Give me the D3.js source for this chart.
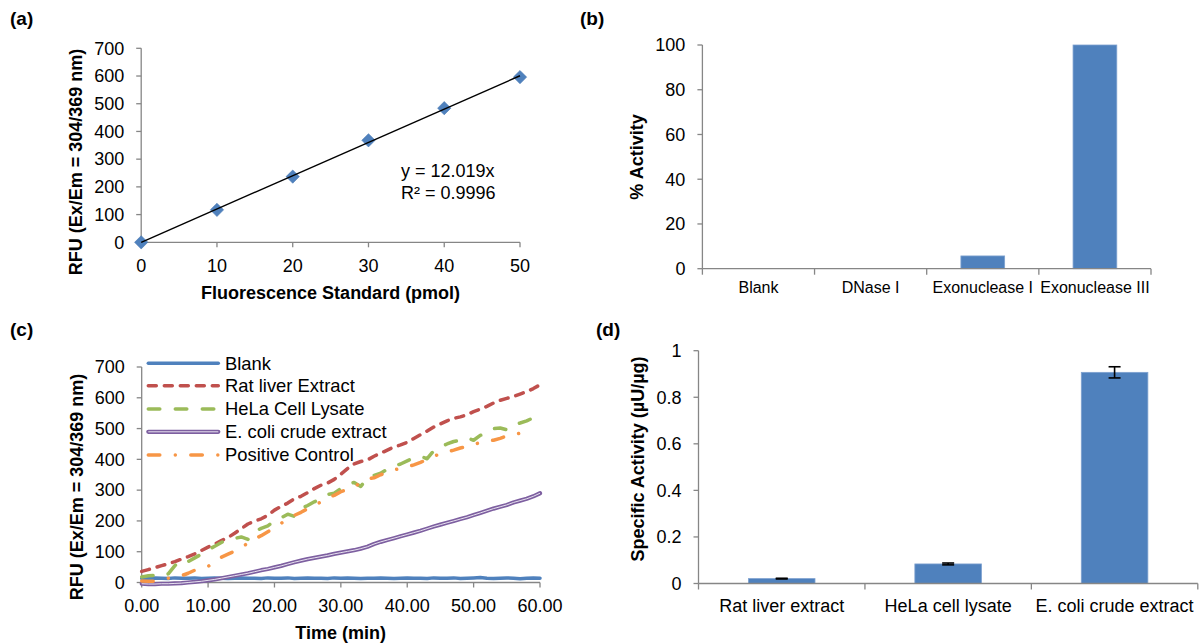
<!DOCTYPE html>
<html><head><meta charset="utf-8">
<script src="https://cdn.jsdelivr.net/npm/d3@7"></script>
<style>
html,body{margin:0;padding:0;background:#fff;}
svg{display:block;font-family:"Liberation Sans",Arial,sans-serif;}
</style></head>
<body>
<svg id="chart" width="1199" height="644"></svg>
<script>
// ---------- DATA ----------
// (a) standard curve
const stdX = [0, 10, 20, 30, 40, 50];
const stdY = [0, 117, 237, 368, 484, 596];
const stdSlope = 12.019;
const stdEq = ["y = 12.019x", "R² = 0.9996"];
const aXTicks = [0, 10, 20, 30, 40, 50];
const aYTicks = [0, 100, 200, 300, 400, 500, 600, 700];

// (b) % activity
const bCats = ["Blank", "DNase I", "Exonuclease I", "Exonuclease III"];
const bVals = [0, 0, 5.7, 100];
const bYTicks = [0, 20, 40, 60, 80, 100];

// (c) kinetics (time in min, one reading per minute)
const cTime = d3.range(0, 61);
const cBlank = [13,14,15,14,13,15,14,14,15,13,14,15,14,13,14,15,14,14,13,15,14,14,15,13,14,15,14,14,13,15,14,15,14,13,14,14,15,14,13,14,15,14,14,13,15,14,14,15,13,14,15,16,14,13,14,15,14,12,14,15,14];
const cRat = [36,42,48,55,61,68,76,84,93,104,115,125,136,146,160,175,190,199,207,218,235,247,258,272,280,292,305,316,323,335,352,370,385,393,398,410,420,430,440,447,455,468,480,492,505,515,525,533,538,545,555,563,572,583,592,598,604,612,620,630,642];
const cHela = [18,22,23,20,28,55,73,68,80,92,106,118,130,138,143,148,140,165,176,184,200,210,222,215,240,250,262,272,286,290,305,318,325,312,340,348,355,368,378,385,395,405,410,402,428,440,450,458,462,470,462,478,485,500,502,496,512,518,525,535,548];
const cEcoli = [-4,-5,-5,-4,-4,-3,-2,0,2,4,7,10,14,18,22,26,30,35,40,44,49,54,60,66,71,76,80,84,88,93,97,101,105,110,116,125,132,138,144,150,156,162,168,175,182,188,194,200,206,212,219,226,233,240,246,252,260,266,272,280,290];
const cPos = [5,4,4,10,14,18,22,30,40,46,52,68,82,92,102,114,128,142,152,165,178,192,208,218,228,240,250,262,276,283,295,302,310,325,336,340,350,358,365,372,376,382,390,400,410,418,424,430,437,442,448,455,460,462,468,476,480,485,484,488];
const cNames = ["Blank", "Rat liver Extract", "HeLa Cell Lysate", "E. coli crude extract", "Positive Control"];
const cXTicks = [0, 10, 20, 30, 40, 50, 60];
const cYTicks = [0, 100, 200, 300, 400, 500, 600, 700];

// (d) specific activity
const dCats = ["Rat liver extract", "HeLa cell lysate", "E. coli crude extract"];
const dVals = [0.021, 0.084, 0.907];
const dErr = [0.0015, 0.004, 0.024];
const dYTicks = [0, 0.2, 0.4, 0.6, 0.8, 1];

// ---------- STYLE ----------
const AX = "#868686", BAR = "#4F81BD", FS = 18;
const svg = d3.select("#chart");

function yAxisLeft(g, y, x0, ticks, fmt) {
  g.append("line").attr("x1", x0).attr("x2", x0).attr("y1", y(ticks[0])).attr("y2", y(ticks[ticks.length-1]))
    .attr("stroke", AX).attr("stroke-width", 1.3);
  ticks.forEach(t => {
    g.append("line").attr("x1", x0-5).attr("x2", x0).attr("y1", y(t)).attr("y2", y(t)).attr("stroke", AX).attr("stroke-width", 1.3);
    g.append("text").attr("x", x0-17).attr("y", y(t)).attr("dy", "0.35em").attr("text-anchor", "end")
      .attr("font-size", FS).attr("fill", "#000").text(fmt(t));
  });
}
function xAxisLinear(g, x, y0, ticks, fmt, labBase) {
  g.append("line").attr("x1", x(ticks[0])).attr("x2", x(ticks[ticks.length-1])).attr("y1", y0).attr("y2", y0)
    .attr("stroke", AX).attr("stroke-width", 1.3);
  ticks.forEach(t => {
    g.append("line").attr("x1", x(t)).attr("x2", x(t)).attr("y1", y0).attr("y2", y0+5).attr("stroke", AX).attr("stroke-width", 1.3);
    g.append("text").attr("x", x(t)).attr("y", labBase).attr("text-anchor", "middle")
      .attr("font-size", FS).attr("fill", "#000").text(fmt(t));
  });
}
function xAxisBand(g, x, y0, labBase, fs) {
  const r = x.range();
  g.append("line").attr("x1", r[0]).attr("x2", r[1]).attr("y1", y0).attr("y2", y0).attr("stroke", AX).attr("stroke-width", 1.3);
  const n = x.domain().length;
  d3.range(n+1).forEach(i => {
    const xx = r[0] + i * x.step();
    g.append("line").attr("x1", xx).attr("x2", xx).attr("y1", y0).attr("y2", y0+6).attr("stroke", AX).attr("stroke-width", 1.3);
  });
  x.domain().forEach(c => {
    g.append("text").attr("x", x(c) + x.bandwidth()/2).attr("y", labBase).attr("text-anchor", "middle")
      .attr("font-size", fs).attr("fill", "#000").text(c);
  });
}
function yTitle(g, txt, bx, cy) {
  g.append("text").attr("transform", `translate(${bx},${cy}) rotate(-90)`).attr("text-anchor", "middle")
    .attr("font-size", FS).attr("font-weight", "bold").attr("fill", "#000").text(txt);
}
function panelLabel(txt, x, y) {
  svg.append("text").attr("x", x).attr("y", y).attr("font-size", 19).attr("font-weight", "bold").attr("fill", "#000").text(txt);
}

// ---------- (a) ----------
{
  const g = svg.append("g");
  const x = d3.scaleLinear().domain([0, 50]).range([141.2, 520]);
  const y = d3.scaleLinear().domain([0, 700]).range([242.3, 48.3]);
  yAxisLeft(g, y, x(0), aYTicks, d => d);
  xAxisLinear(g, x, y(0), aXTicks, d => d, 271.5);
  yTitle(g, "RFU (Ex/Em = 304/369 nm)", 82, 162);
  g.append("text").attr("x", 330.6).attr("y", 299).attr("text-anchor", "middle").attr("font-size", FS)
    .attr("font-weight", "bold").text("Fluorescence Standard (pmol)");
  const pts = stdX.map((v, i) => [v, stdY[i]]);
  g.selectAll("path.pt").data(pts).enter().append("path")
    .attr("d", d3.symbol(d3.symbolSquare, 88))
    .attr("transform", d => `translate(${x(d[0])},${y(d[1])}) rotate(45)`)
    .attr("fill", BAR).attr("stroke", "#4a7ab3").attr("stroke-width", 0.6);
  g.append("line").attr("x1", x(0)).attr("y1", y(0)).attr("x2", x(50)).attr("y2", y(50 * stdSlope))
    .attr("stroke", "#000").attr("stroke-width", 1.4);
  g.append("text").attr("x", 401).attr("y", 177).attr("font-size", FS).text(stdEq[0]);
  g.append("text").attr("x", 401).attr("y", 198.5).attr("font-size", FS).text(stdEq[1]);
  panelLabel("(a)", 10, 25);
}

// ---------- (b) ----------
{
  const g = svg.append("g");
  const x = d3.scaleBand().domain(bCats).range([702.4, 1151]).paddingInner(0.61).paddingOuter(0.305);
  const y = d3.scaleLinear().domain([0, 100]).range([268.7, 45]);
  g.selectAll("rect").data(bCats).enter().append("rect")
    .attr("x", d => x(d)).attr("width", x.bandwidth())
    .attr("y", (d, i) => y(bVals[i])).attr("height", (d, i) => y(0) - y(bVals[i]))
    .attr("fill", BAR).attr("stroke", "#7ea1cf").attr("stroke-width", 0.8);
  yAxisLeft(g, y, 702.4, bYTicks, d => d);
  xAxisBand(g, x, y(0), 293, 16);
  yTitle(g, "% Activity", 643, 157);
  panelLabel("(b)", 580, 25);
}

// ---------- (c) ----------
{
  const g = svg.append("g");
  const x = d3.scaleLinear().domain([0, 60]).range([141.7, 540]);
  const y = d3.scaleLinear().domain([0, 700]).range([582.5, 367]);
  yAxisLeft(g, y, x(0), cYTicks, d => d);
  xAxisLinear(g, x, y(0), cXTicks, d3.format(".2f"), 611.5);
  yTitle(g, "RFU (Ex/Em = 304/369 nm)", 83, 487);
  g.append("text").attr("x", 340.6).attr("y", 639).attr("text-anchor", "middle").attr("font-size", FS)
    .attr("font-weight", "bold").text("Time (min)");

  const series = [
    {name: cNames[0], vals: cBlank, color: "#4F81BD", dash: null},
    {name: cNames[1], vals: cRat, color: "#C0504D", dash: "8,8"},
    {name: cNames[2], vals: cHela, color: "#9BBB59", dash: "11.5,15.5"},
    {name: cNames[3], vals: cEcoli, color: "#7D5FA0", dash: null, dbl: true},
    {name: cNames[4], vals: cPos, color: "#F79646", dash: "11.5,15.5,0.01,15.5"}
  ];
  const line = d3.line().x((d, i) => x(cTime[i])).y(d => y(d));
  series.forEach(s => {
    const p = g.append("path").datum(s.vals).attr("d", line).attr("fill", "none")
      .attr("stroke", s.color).attr("stroke-width", s.dbl ? 4.2 : 3.5)
      .attr("stroke-linecap", "round").attr("stroke-linejoin", "round");
    if (s.dash) p.attr("stroke-dasharray", s.dash);
    if (s.dbl) g.append("path").datum(s.vals).attr("d", line).attr("fill", "none")
      .attr("stroke", "#f4f0f8").attr("stroke-width", 0.9).attr("stroke-linejoin", "round");
  });
  // legend
  const rows = [363.3, 385.7, 409, 431.8, 455];
  series.forEach((s, i) => {
    const l = g.append("line").attr("x1", 148.3).attr("x2", 218.3).attr("y1", rows[i]).attr("y2", rows[i])
      .attr("stroke", s.color).attr("stroke-width", s.dbl ? 4.2 : 3.5).attr("stroke-linecap", "round");
    if (s.dash) l.attr("stroke-dasharray", s.dash);
    if (s.dbl) g.append("line").attr("x1", 148.3).attr("x2", 218.3).attr("y1", rows[i]).attr("y2", rows[i])
      .attr("stroke", "#f4f0f8").attr("stroke-width", 0.9);
    g.append("text").attr("x", 225).attr("y", rows[i]).attr("dy", "0.35em").attr("font-size", 18.4).text(s.name);
  });
  panelLabel("(c)", 10, 336);
}

// ---------- (d) ----------
{
  const g = svg.append("g");
  const x = d3.scaleBand().domain(dCats).range([698.5, 1197.8]).paddingInner(0.6).paddingOuter(0.3);
  const y = d3.scaleLinear().domain([0, 1]).range([583.5, 350.7]);
  g.selectAll("rect").data(dCats).enter().append("rect")
    .attr("x", d => x(d)).attr("width", x.bandwidth())
    .attr("y", (d, i) => y(dVals[i])).attr("height", (d, i) => y(0) - y(dVals[i]))
    .attr("fill", BAR).attr("stroke", "#7ea1cf").attr("stroke-width", 0.8);
  dCats.forEach((c, i) => {
    const cx = x(c) + x.bandwidth()/2;
    const hi = y(dVals[i] + dErr[i]), lo = y(dVals[i] - dErr[i]);
    g.append("line").attr("x1", cx).attr("x2", cx).attr("y1", hi).attr("y2", lo).attr("stroke", "#000").attr("stroke-width", 1.6);
    [hi, lo].forEach(yy => g.append("line").attr("x1", cx-6).attr("x2", cx+6).attr("y1", yy).attr("y2", yy)
      .attr("stroke", "#000").attr("stroke-width", 1.6));
  });
  yAxisLeft(g, y, 698.5, dYTicks, d => d);
  xAxisBand(g, x, y(0), 611.5, FS);
  yTitle(g, "Specific  Activity (µU/µg)", 644, 459);
  panelLabel("(d)", 596, 336);
}
</script>
</body></html>
